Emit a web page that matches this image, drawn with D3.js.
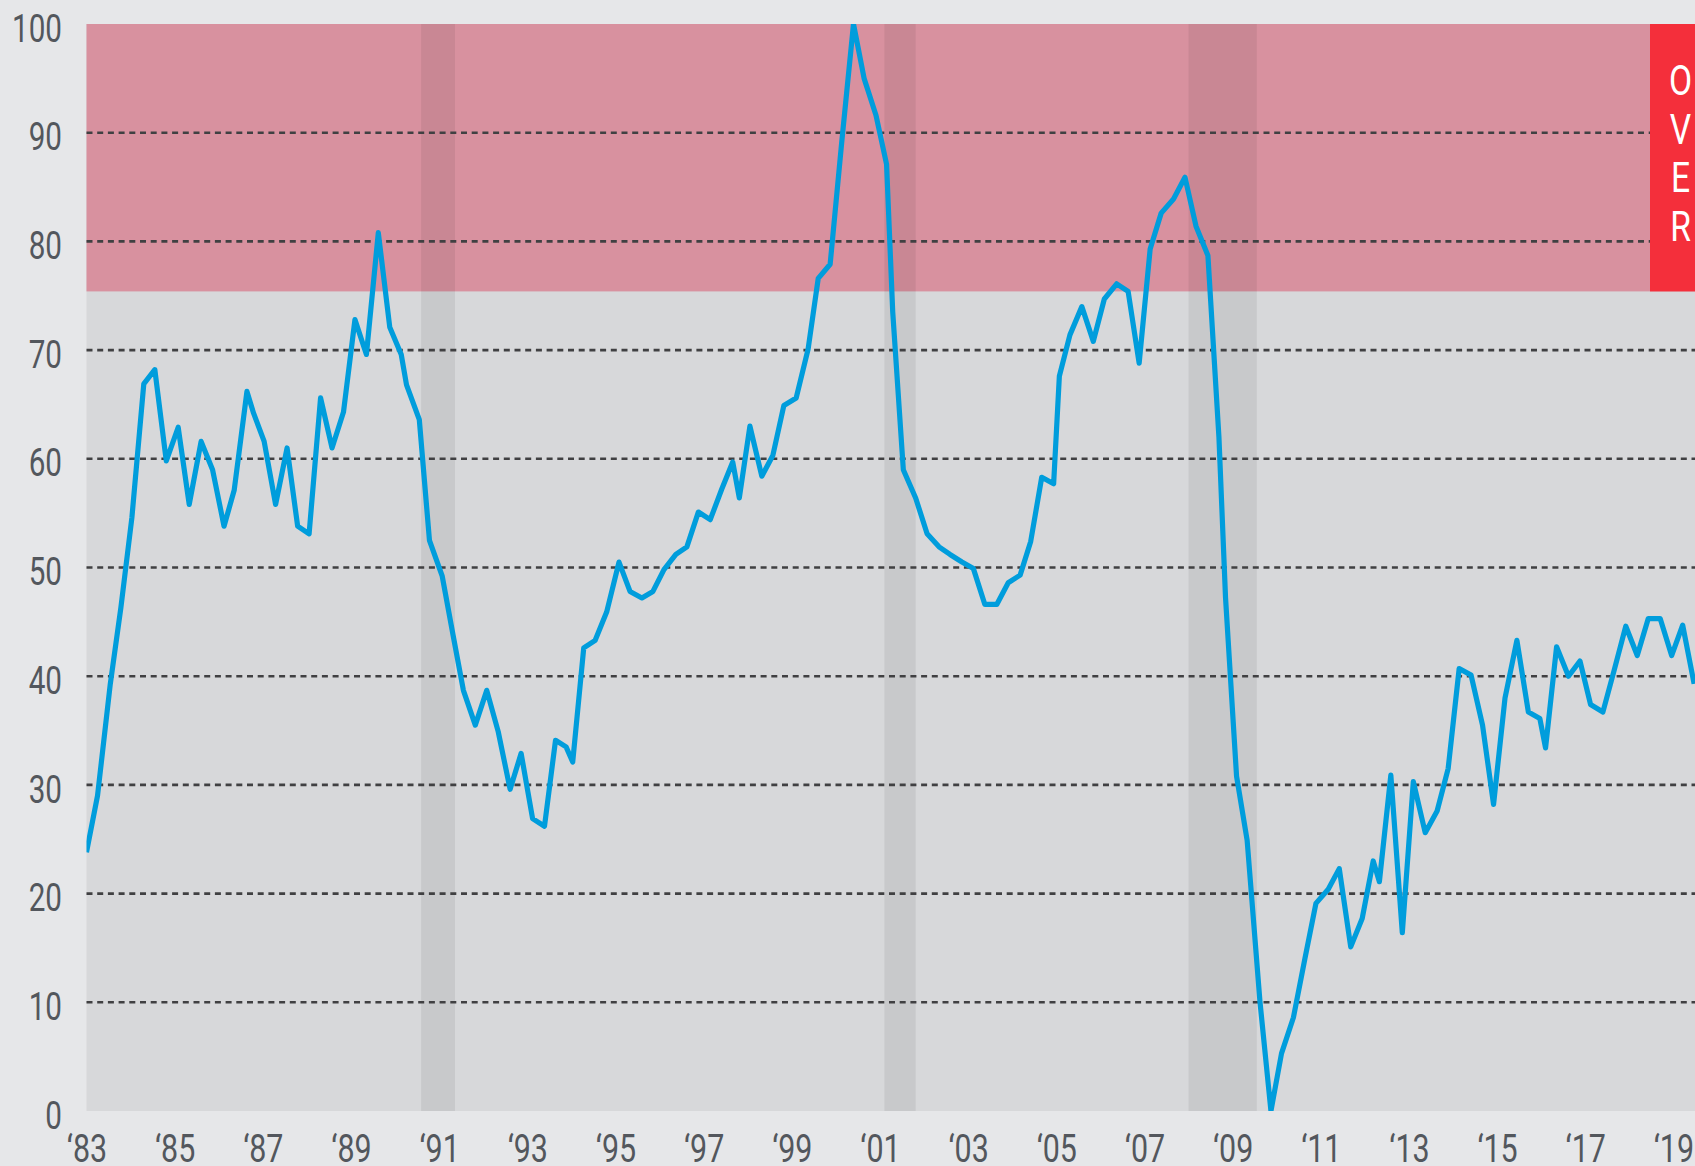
<!DOCTYPE html>
<html><head><meta charset="utf-8">
<script src="https://cdn.jsdelivr.net/npm/d3@7"></script>
<style>
html,body{margin:0;padding:0;background:#e6e7e9;overflow:hidden}
svg{display:block}
text{font-family:Roboto,"Noto Sans",sans-serif;}
</style></head><body>
<svg id="chart" width="1695" height="1166"></svg>
<script>
// ---- data ----
const years = [
1983.00,1983.25,1983.54,1983.78,1984.03,1984.30,1984.55,1984.81,1985.08,1985.33,
1985.60,1985.86,1986.12,1986.35,1986.64,1986.79,1987.03,1987.29,1987.55,1987.79,
1988.05,1988.31,1988.57,1988.83,1989.09,1989.35,1989.62,1989.88,1990.14,1990.26,
1990.55,1990.78,1991.07,1991.31,1991.55,1991.82,1992.08,1992.34,1992.61,1992.86,
1993.12,1993.39,1993.64,1993.88,1994.03,1994.28,1994.54,1994.80,1995.08,1995.33,
1995.60,1995.85,1996.10,1996.37,1996.62,1996.88,1997.15,1997.41,1997.66,1997.81,
1998.05,1998.32,1998.57,1998.82,1999.10,1999.37,1999.60,1999.87,2000.13,2000.40,
2000.64,2000.91,2001.15,2001.29,2001.53,2001.81,2002.07,2002.34,2002.59,2002.86,
2003.12,2003.38,2003.65,2003.91,2004.18,2004.42,2004.67,2004.94,2005.07,2005.31,
2005.58,2005.84,2006.09,2006.37,2006.63,2006.88,2007.13,2007.38,2007.66,2007.92,
2008.17,2008.44,2008.69,2008.84,2009.09,2009.33,2009.62,2009.87,2010.11,2010.38,
2010.64,2010.89,2011.17,2011.42,2011.68,2011.94,2012.19,2012.33,2012.59,2012.85,
2013.10,2013.37,2013.64,2013.89,2014.14,2014.41,2014.67,2014.92,2015.18,2015.45,
2015.71,2015.97,2016.10,2016.35,2016.62,2016.88,2017.12,2017.40,2017.66,2017.92,
2018.18,2018.43,2018.70,2018.96,2019.21,2019.47
];
const values = [
23.8,29.0,39.3,46.3,54.6,66.9,68.2,59.8,62.9,55.8,
61.6,59.0,53.8,57.1,66.2,64.2,61.6,55.8,61.0,53.8,
53.1,65.6,61.0,64.3,72.8,69.6,80.8,72.1,69.6,66.8,
63.6,52.5,49.2,43.9,38.7,35.5,38.7,34.9,29.6,32.9,
26.9,26.2,34.1,33.5,32.1,42.6,43.3,45.9,50.5,47.8,
47.2,47.8,49.8,51.2,51.9,55.1,54.4,57.2,59.7,56.4,
63.0,58.4,60.3,64.9,65.6,70.1,76.6,77.9,89.0,100.0,
95.0,91.6,87.1,73.5,59.0,56.4,53.1,51.9,51.2,50.5,
49.9,46.6,46.6,48.6,49.3,52.4,58.3,57.7,67.6,71.4,
74.0,70.8,74.7,76.1,75.4,68.8,79.3,82.6,83.9,85.9,
81.4,78.7,62.0,47.2,30.8,24.9,10.1,0.0,5.3,8.6,
14.0,19.1,20.4,22.3,15.1,17.7,23.0,21.1,30.9,16.4,
30.3,25.6,27.6,31.5,40.7,40.1,35.5,28.2,38.0,43.3,
36.7,36.1,33.4,42.7,40.0,41.4,37.4,36.7,40.6,44.6,
41.9,45.3,45.3,41.9,44.7,39.3
];
const yTicks = [0,10,20,30,40,50,60,70,80,90,100];
const gridValues = [10,20,30,40,50,60,70,80,90];
const xTickYears = [1983,1985,1987,1989,1991,1993,1995,1997,1999,2001,2003,2005,2007,2009,2011,2013,2015,2017,2019];
const recessions = [[1990.59,1991.36],[2001.10,2001.81],[2008.00,2009.55]];
const overThreshold = 75.4;
const overLetters = ["O","V","E","R"];
const xDomain = [1983, 2019.49];
const yDomain = [0, 100];

// ---- layout ----
const plot = {left:86.5, right:1695, top:24, bottom:1111};
const svg = d3.select("#chart");
const x = d3.scaleLinear().domain(xDomain).range([plot.left, plot.right]);
const y = d3.scaleLinear().domain(yDomain).range([plot.bottom, plot.top]);

svg.append("defs").append("clipPath").attr("id","clip")
  .append("rect").attr("x",plot.left).attr("y",plot.top)
  .attr("width",plot.right-plot.left).attr("height",plot.bottom-plot.top);

svg.append("rect").attr("x",plot.left).attr("y",plot.top)
  .attr("width",plot.right-plot.left).attr("height",plot.bottom-plot.top)
  .attr("fill","#d7d8da");
svg.append("rect").attr("x",plot.left).attr("y",y(100))
  .attr("width",plot.right-plot.left).attr("height",y(overThreshold)-y(100))
  .attr("fill","#d8919f");
svg.append("g").selectAll("rect").data(recessions).join("rect")
  .attr("x",d=>x(d[0])).attr("width",d=>x(d[1])-x(d[0]))
  .attr("y",plot.top).attr("height",plot.bottom-plot.top)
  .attr("fill","#000").attr("fill-opacity",0.068);
svg.append("g").selectAll("line").data(gridValues).join("line")
  .attr("x1",plot.left).attr("x2",plot.right)
  .attr("y1",d=>y(d)).attr("y2",d=>y(d))
  .attr("stroke","#404042").attr("stroke-width",2.6)
  .attr("stroke-dasharray","6,4.7");

const pts = years.map((t,i)=>[t, values[i]]);
svg.append("path").datum(pts)
  .attr("clip-path","url(#clip)")
  .attr("d", d3.line().x(d=>x(d[0])).y(d=>y(d[1])))
  .attr("fill","none").attr("stroke","#009ddc").attr("stroke-width",5.2)
  .attr("stroke-linejoin","round");

const boxX = 1650;
svg.append("rect").attr("x",boxX).attr("y",y(100))
  .attr("width",plot.right-boxX).attr("height",y(overThreshold)-y(100))
  .attr("fill","#f42f3b");
const og = svg.append("g").attr("transform","translate(1680.5,0)");
og.selectAll("text").data(overLetters).join("text")
  .attr("transform",(d,i)=>`translate(0,${95 + i*48.5}) scale(0.8,1)`)
  .attr("text-anchor","middle").attr("fill","#fff")
  .attr("font-size",42).attr("font-weight",400)
  .text(d=>d);

const yAxis = svg.append("g").attr("transform","translate(62,0)")
  .call(d3.axisLeft(y).tickValues(yTicks).tickSize(0).tickPadding(0));
yAxis.select(".domain").remove();
yAxis.selectAll("text")
  .attr("x",0).attr("dy","0.45em")
  .attr("transform","scale(0.78,1)")
  .attr("font-size",38).attr("font-weight",400)
  .attr("font-family","Roboto, sans-serif")
  .attr("fill","#53575d");

const xAxis = svg.append("g").attr("transform","translate(0,1162)")
  .call(d3.axisBottom(x).tickValues(xTickYears).tickSize(0).tickPadding(0)
    .tickFormat(d=>"\u2018"+String(d).slice(2)));
xAxis.select(".domain").remove();
xAxis.selectAll("text")
  .attr("y",0).attr("dy",0)
  .attr("transform","scale(0.8,1)")
  .attr("font-size",38).attr("font-weight",400)
  .attr("font-family","Roboto, sans-serif")
  .attr("fill","#53575d");
</script>
</body></html>
